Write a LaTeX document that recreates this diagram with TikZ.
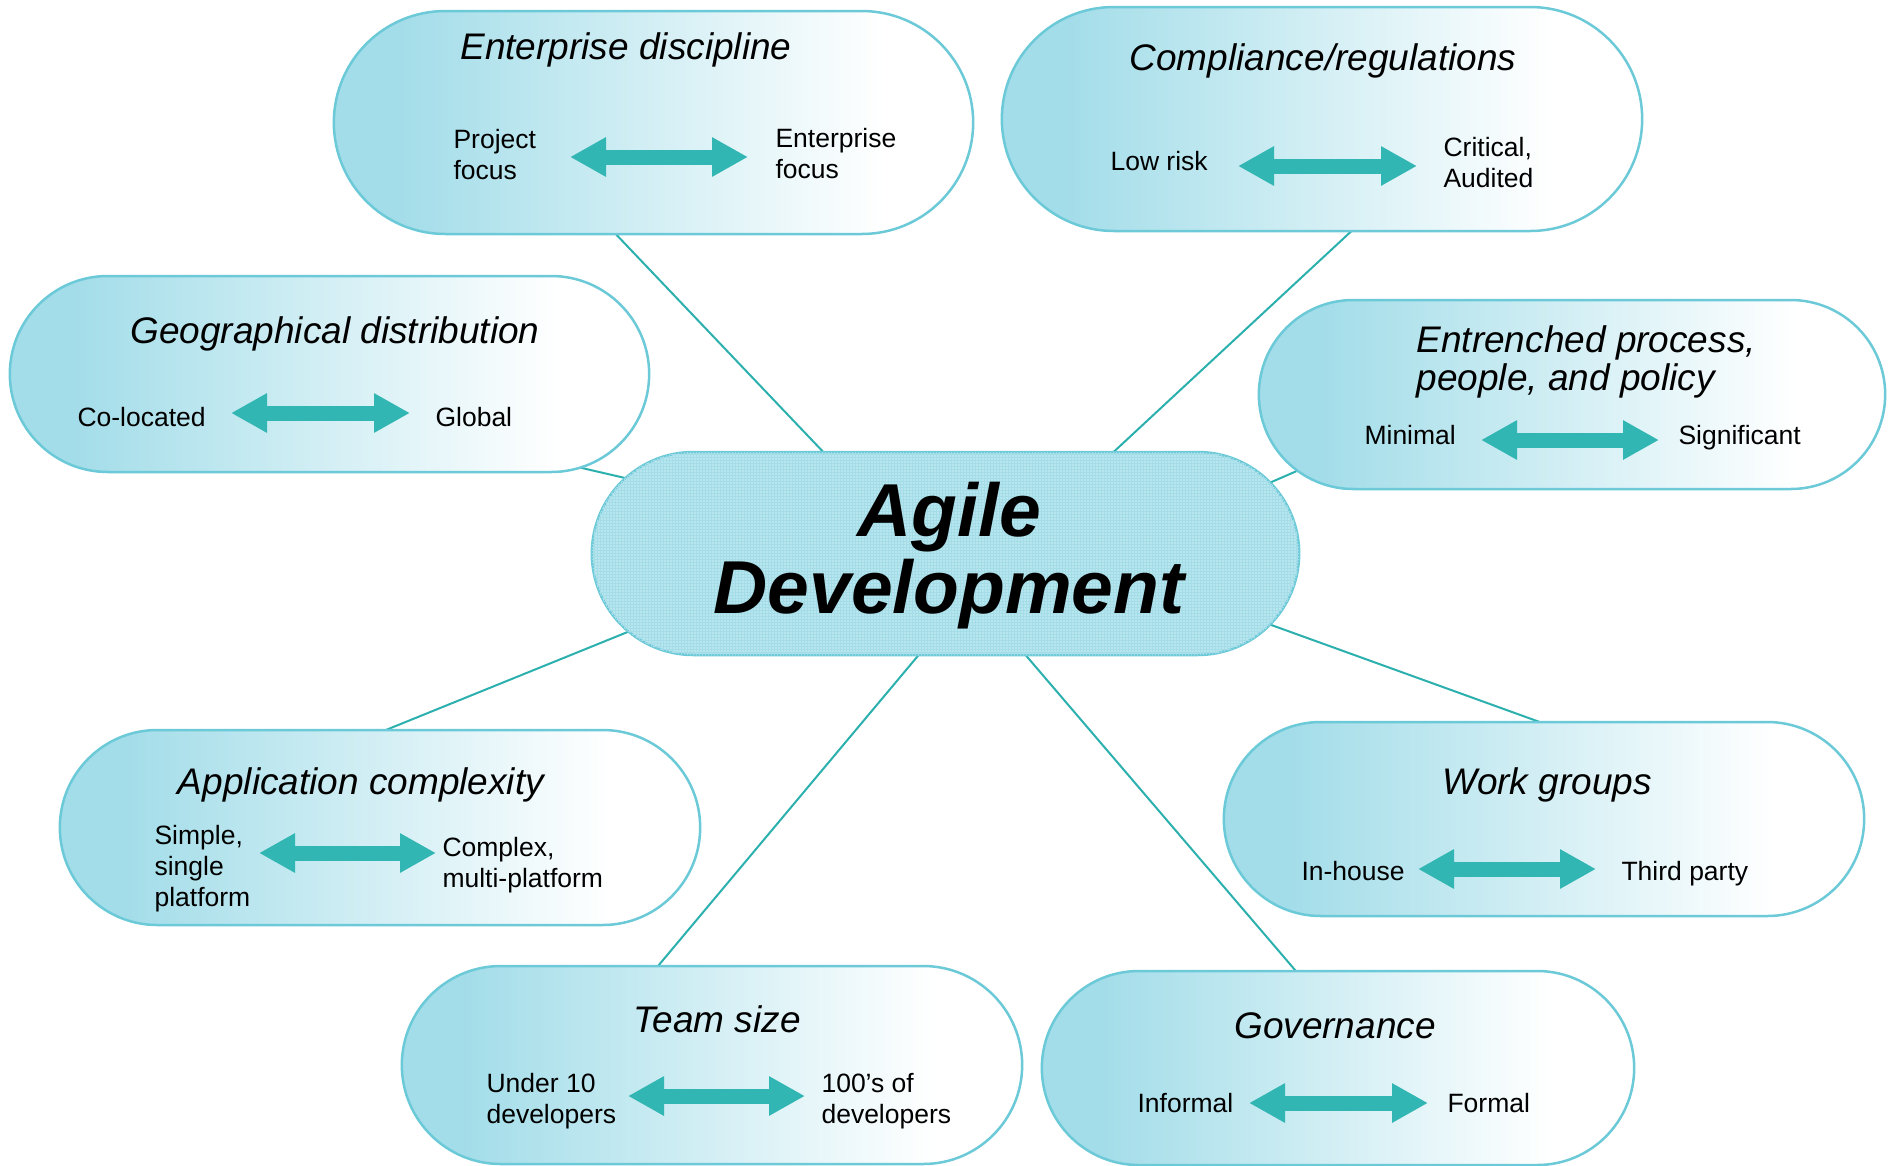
\documentclass[tikz,border=0pt]{standalone}
\usepackage{fontspec}
\setmainfont{Liberation Sans}
\usetikzlibrary{arrows.meta}
\usetikzlibrary{shapes.misc, backgrounds, patterns}
\definecolor{pillL}{HTML}{A3DDE9}
\definecolor{pillEdge}{HTML}{6CCAD8}
\definecolor{linkCol}{HTML}{2BB0AE}
\definecolor{spanCol}{HTML}{32B6B3}
\definecolor{agileFill}{HTML}{B7E6EF}
\definecolor{agileGrid}{HTML}{A4DCE8}
\pgfdeclarehorizontalshading{pillshade}{100bp}{color(0bp)=(pillL); color(25bp)=(pillL); color(30bp)=(pillL); color(68bp)=(white); color(100bp)=(white)}
\tikzset{%
	% Specifications for style of nodes:
	pill/.style = {rounded rectangle, draw=pillEdge, line width=2.5pt, shading=pillshade},
	hub/.style = {rounded rectangle, draw=pillEdge, line width=2.5pt, fill=agileFill,
		postaction={pattern=grid, pattern color=agileGrid}},
	hubText/.style = {align=center, font=\fontsize{75pt}{77pt}\selectfont\bfseries\itshape},
	ttl/.style = {align=left, font=\fontsize{37pt}{38pt}\selectfont\itshape},
	side/.style = {anchor=west, align=left, font=\fontsize{26.5pt}{31pt}\selectfont},
	spanArrow/.style = {draw=spanCol, line width=15pt,
		{Triangle[length=36pt,width=37pt]}-{Triangle[length=36pt,width=37pt]}},
	link/.style = {draw=linkCol, line width=2pt}
}
\begin{document}
\begin{tikzpicture}[x=1pt, y=-1pt]
	\useasboundingbox (0,0) rectangle (1889,1165);
	% centre
	\node (agile) [hub, minimum width=714pt, minimum height=203pt] at (945.5,553.5) {};
	\node (agileTxt) [hubText] at (949,555.5) {Agile\\Development};
	% enterprise discipline
	\node (entPill) [pill, minimum width=646pt, minimum height=223pt] at (653.5,122.5) {};
	\node (entTtl) [ttl] at (626,49.5) {Enterprise discipline};
	\node (entLo) [side] at (450,155) {Project\\focus};
	\node (entHi) [side] at (772,154) {Enterprise\\focus};
	\coordinate (entA) at (570,157);
	\coordinate (entB) at (748,157);
	\draw[spanArrow] (entA) -- (entB);
	% compliance
	\node (cmpPill) [pill, minimum width=647pt, minimum height=224pt] at (1322,119) {};
	\node (cmpTtl) [ttl] at (1323,60.5) {Compliance/regulations};
	\node (cmpLo) [side] at (1107,161) {Low risk};
	\node (cmpHi) [side] at (1440,163) {Critical,\\Audited};
	\coordinate (cmpA) at (1238,166);
	\coordinate (cmpB) at (1417,166);
	\draw[spanArrow] (cmpA) -- (cmpB);
	% geographical distribution
	\node (geoPill) [pill, minimum width=646pt, minimum height=196pt] at (329.5,374) {};
	\node (geoTtl) [ttl] at (335,333.5) {Geographical distribution};
	\node (geoLo) [side] at (74,417) {Co-located};
	\node (geoHi) [side] at (432,417) {Global};
	\coordinate (geoA) at (231,413);
	\coordinate (geoB) at (410,413);
	\draw[spanArrow] (geoA) -- (geoB);
	% entrenched process
	\node (entrPill) [pill, minimum width=633pt, minimum height=189pt] at (1572,394.5) {};
	\node (entrTtl) [ttl, anchor=west] at (1413,361.5) {Entrenched process,\\people, and policy};
	\node (entrLo) [side] at (1361,435) {Minimal};
	\node (entrHi) [side] at (1675,437.5) {Significant};
	\coordinate (entrA) at (1481,440);
	\coordinate (entrB) at (1659,440);
	\draw[spanArrow] (entrA) -- (entrB);
	% application complexity
	\node (appPill) [pill, minimum width=647pt, minimum height=195pt] at (380,827.5) {};
	\node (appTtl) [ttl] at (361,784.5) {Application complexity};
	\node (appLo) [side] at (151,868.5) {Simple,\\single\\platform};
	\node (appHi) [side] at (439,865) {Complex,\\multi-platform};
	\coordinate (appA) at (259,853);
	\coordinate (appB) at (436,853);
	\draw[spanArrow] (appA) -- (appB);
	% work groups
	\node (workPill) [pill, minimum width=647pt, minimum height=194pt] at (1544,819) {};
	\node (workTtl) [ttl] at (1547,784.5) {Work groups};
	\node (workLo) [side] at (1298,871) {In-house};
	\node (workHi) [side] at (1618,873.5) {Third party};
	\coordinate (workA) at (1418,869);
	\coordinate (workB) at (1596,869);
	\draw[spanArrow] (workA) -- (workB);
	% team size
	\node (teamPill) [pill, minimum width=627pt, minimum height=198pt] at (712,1065) {};
	\node (teamTtl) [ttl] at (717,1019) {Team size};
	\node (teamLo) [side] at (483,1101.5) {Under 10\\developers};
	\node (teamHi) [side] at (818,1101.5) {100’s of\\developers};
	\coordinate (teamA) at (628,1096);
	\coordinate (teamB) at (805,1096);
	\draw[spanArrow] (teamA) -- (teamB);
	% governance
	\node (govPill) [pill, minimum width=599pt, minimum height=194pt] at (1338,1068) {};
	\node (govTtl) [ttl] at (1335,1026) {Governance};
	\node (govLo) [side] at (1134,1103) {Informal};
	\node (govHi) [side] at (1444,1103) {Formal};
	\coordinate (govA) at (1249,1103);
	\coordinate (govB) at (1428,1103);
	\draw[spanArrow] (govA) -- (govB);
	% spokes to the centre
	\begin{scope}[on background layer]
		\draw[link] ([shift={(-43.5,105.5)}]entPill.center) -- ([shift={(-116.5,-95.5)}]agile.center);
		\draw[link] ([shift={(36,106)}]cmpPill.center) -- ([shift={(160.5,-94.5)}]agile.center);
		\draw[link] ([shift={(239.5,91)}]geoPill.center) -- ([shift={(-307.5,-72.5)}]agile.center);
		\draw[link] ([shift={(-266,72.5)}]entrPill.center) -- ([shift={(314.5,-66.5)}]agile.center);
		\draw[link] ([shift={(-4,-93.5)}]appPill.center) -- ([shift={(-310.5,75.5)}]agile.center);
		\draw[link] ([shift={(-59,-93)}]teamPill.center) -- ([shift={(-23.5,97.5)}]agile.center);
		\draw[link] ([shift={(-37,-91)}]govPill.center) -- ([shift={(77.5,98.5)}]agile.center);
		\draw[link] ([shift={(4,-94)}]workPill.center) -- ([shift={(317.5,68.5)}]agile.center);
	\end{scope}
\end{tikzpicture}
\end{document}
